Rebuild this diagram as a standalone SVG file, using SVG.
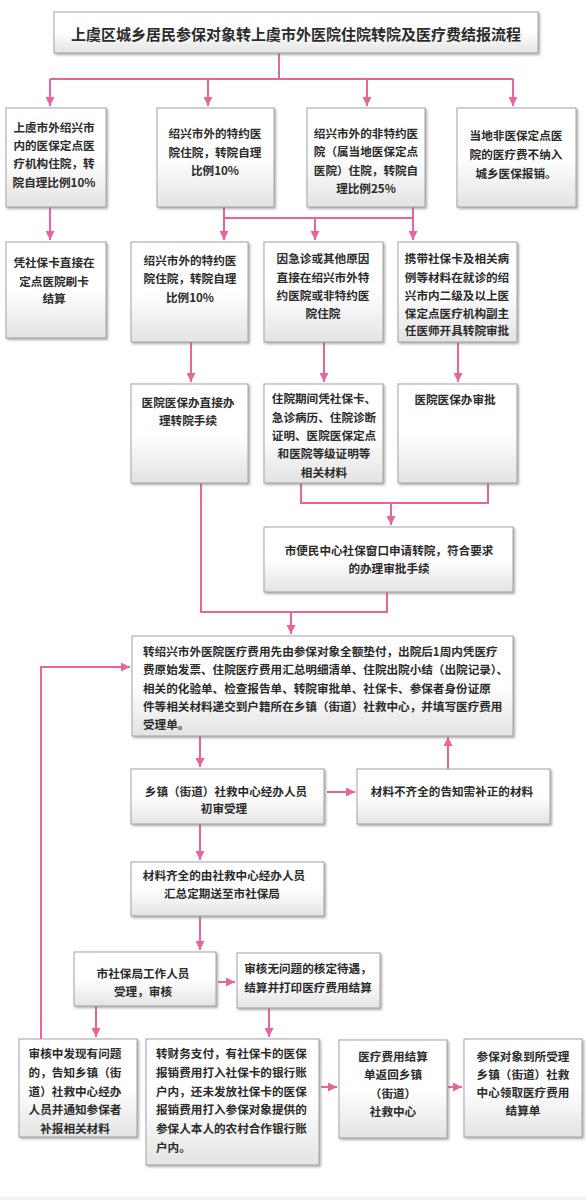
<svg xmlns="http://www.w3.org/2000/svg" width="586" height="1200" viewBox="0 0 586 1200">
<defs>
<linearGradient id="g" x1="0" y1="0" x2="0" y2="1">
<stop offset="0" stop-color="#ffffff"/>
<stop offset="0.5" stop-color="#ffffff"/>
<stop offset="1" stop-color="#e3e3e3"/>
</linearGradient>
<filter id="sh" x="-10%" y="-10%" width="120%" height="130%">
<feDropShadow dx="1.5" dy="1.5" stdDeviation="1" flood-color="#777" flood-opacity="0.6"/>
</filter>
<marker id="ar" viewBox="0 0 10 10" refX="10" refY="5" markerWidth="9" markerHeight="9" markerUnits="userSpaceOnUse" orient="auto">
<path d="M0,0 L10,5 L0,10 z" fill="#e8649a"/>
</marker>
</defs>
<style>
.b{fill:url(#g);stroke:#a3a3a3;stroke-width:1;filter:url(#sh)}
text{font-family:"Noto Sans CJK SC","Liberation Sans",sans-serif;font-size:11.6px;fill:#2b2b2b;font-weight:bold;dominant-baseline:central}
.c{text-anchor:middle}
.t{font-size:15px}
.ln{fill:none;stroke:#e8649a;stroke-width:2}
.a{marker-end:url(#ar)}
</style>
<rect x="0" y="1197" width="586" height="3" fill="#f2f2f2"/>
<g id="connectors">
<path class="ln" d="M279,53 V79 M50,79 H513"/>
<path class="ln a" d="M50,79 V106"/>
<path class="ln a" d="M208,79 V106"/>
<path class="ln a" d="M367,79 V106"/>
<path class="ln a" d="M513,79 V106"/>
<path class="ln a" d="M50,207 V240"/>
<path class="ln" d="M224,207 V218 H413"/>
<path class="ln a" d="M224,218 V240"/>
<path class="ln a" d="M315,218 V240"/>
<path class="ln a" d="M413,207 V240"/>
<path class="ln a" d="M191,342 V382"/>
<path class="ln a" d="M324,342 V382"/>
<path class="ln a" d="M458,342 V382"/>
<path class="ln" d="M301,483 V503 H488 V483"/>
<path class="ln a" d="M391,503 V525"/>
<path class="ln" d="M201,483 V612 H387 V592"/>
<path class="ln a" d="M291,612 V634"/>
<path class="ln a" d="M200,736 V767"/>
<path class="ln a" d="M327,792 H355"/>
<path class="ln a" d="M448,769 V737"/>
<path class="ln a" d="M200,824 V860"/>
<path class="ln a" d="M200,916 V950"/>
<path class="ln a" d="M218,982 H235"/>
<path class="ln a" d="M96,1006 V1037"/>
<path class="ln a" d="M269,1008 V1037"/>
<path class="ln a" d="M41,1039 V667 H130"/>
<path class="ln a" d="M321,1087 H337"/>
<path class="ln a" d="M448,1087 H462"/>
</g>
<g id="title">
<rect class="b" x="54" y="12" width="484" height="41"/>
<text class="c t" x="296" y="33">上虞区城乡居民参保对象转上虞市外医院住院转院及医疗费结报流程</text>
</g>
<g id="n1">
<rect class="b" x="6" y="108" width="100" height="99"/>
<text class="c" x="54" y="127">上虞市外绍兴市</text>
<text class="c" x="54" y="145">内的医保定点医</text>
<text class="c" x="54" y="163">疗机构住院，转</text>
<text class="c" x="54" y="182">院自理比例10%</text>
</g>
<g id="n2">
<rect class="b" x="157" y="108" width="117" height="99"/>
<text class="c" x="215" y="133">绍兴市外的特约医</text>
<text class="c" x="215" y="152">院住院，转院自理</text>
<text class="c" x="215" y="170">比例10%</text>
</g>
<g id="n3">
<rect class="b" x="307" y="108" width="118" height="99"/>
<text class="c" x="366" y="133">绍兴市外的非特约医</text>
<text class="c" x="366" y="151">院（属当地医保定点</text>
<text class="c" x="366" y="170">医院）住院，转院自</text>
<text class="c" x="366" y="188">理比例25%</text>
</g>
<g id="n4">
<rect class="b" x="457" y="108" width="119" height="99"/>
<text class="c" x="516" y="135">当地非医保定点医</text>
<text class="c" x="516" y="154">院的医疗费不纳入</text>
<text class="c" x="516" y="173">城乡医保报销。</text>
</g>
<g id="n5">
<rect class="b" x="6" y="242" width="100" height="96"/>
<text class="c" x="54" y="262">凭社保卡直接在</text>
<text class="c" x="54" y="281">定点医院刷卡</text>
<text class="c" x="54" y="298">结算</text>
</g>
<g id="n6">
<rect class="b" x="131" y="242" width="117" height="100"/>
<text class="c" x="190" y="260">绍兴市外的特约医</text>
<text class="c" x="190" y="278">院住院，转院自理</text>
<text class="c" x="190" y="297">比例10%</text>
</g>
<g id="n7">
<rect class="b" x="264" y="242" width="119" height="100"/>
<text class="c" x="323" y="258">因急诊或其他原因</text>
<text class="c" x="323" y="277">直接在绍兴市外特</text>
<text class="c" x="323" y="295">约医院或非特约医</text>
<text class="c" x="323" y="313">院住院</text>
</g>
<g id="n8">
<rect class="b" x="398" y="242" width="119" height="100"/>
<text class="c" x="457" y="258">携带社保卡及相关病</text>
<text class="c" x="457" y="277">例等材料在就诊的绍</text>
<text class="c" x="457" y="295">兴市内二级及以上医</text>
<text class="c" x="457" y="313">保定点医疗机构副主</text>
<text class="c" x="457" y="330">任医师开具转院审批</text>
</g>
<g id="n9">
<rect class="b" x="131" y="384" width="117" height="99"/>
<text class="c" x="188" y="402">医院医保办直接办</text>
<text class="c" x="188" y="420">理转院手续</text>
</g>
<g id="n10">
<rect class="b" x="264" y="384" width="119" height="99"/>
<text class="c" x="324" y="398">住院期间凭社保卡、</text>
<text class="c" x="324" y="417">急诊病历、住院诊断</text>
<text class="c" x="324" y="435">证明、医院医保定点</text>
<text class="c" x="324" y="453">和医院等级证明等</text>
<text class="c" x="324" y="472">相关材料</text>
</g>
<g id="n11">
<rect class="b" x="398" y="384" width="119" height="99"/>
<text class="c" x="455" y="399">医院医保办审批</text>
</g>
<g id="n12">
<rect class="b" x="264" y="527" width="249" height="65"/>
<text class="c" x="389" y="550">市便民中心社保窗口申请转院，符合要求</text>
<text class="c" x="389" y="568">的办理审批手续</text>
</g>
<g id="n13">
<rect class="b" x="132" y="636" width="381" height="100"/>
<text x="143" y="651">转绍兴市外医院医疗费用先由参保对象全额垫付，出院后1周内凭医疗</text>
<text x="143" y="669">费原始发票、住院医疗费用汇总明细清单、住院出院小结（出院记录）、</text>
<text x="143" y="688">相关的化验单、检查报告单、转院审批单、社保卡、参保者身份证原</text>
<text x="143" y="706">件等相关材料递交到户籍所在乡镇（街道）社救中心，并填写医疗费用</text>
<text x="143" y="724">受理单。</text>
</g>
<g id="n14">
<rect class="b" x="131" y="769" width="193" height="55"/>
<text class="c" x="226" y="791">乡镇（街道）社救中心经办人员</text>
<text class="c" x="224" y="808">初审受理</text>
</g>
<g id="n15">
<rect class="b" x="357" y="769" width="193" height="55"/>
<text class="c" x="452" y="791">材料不齐全的告知需补正的材料</text>
</g>
<g id="n16">
<rect class="b" x="131" y="862" width="193" height="54"/>
<text class="c" x="224" y="875">材料齐全的由社救中心经办人员</text>
<text class="c" x="222" y="893">汇总定期送至市社保局</text>
</g>
<g id="n17">
<rect class="b" x="74" y="952" width="142" height="54"/>
<text class="c" x="143" y="973">市社保局工作人员</text>
<text class="c" x="143" y="991">受理，审核</text>
</g>
<g id="n18">
<rect class="b" x="237" y="953" width="143" height="55"/>
<text class="c" x="308" y="968">审核无问题的核定待遇，</text>
<text class="c" x="308" y="987">结算并打印医疗费用结算</text>
</g>
<g id="n19">
<rect class="b" x="19" y="1039" width="118" height="98"/>
<text class="c" x="75" y="1053">审核中发现有问题</text>
<text class="c" x="75" y="1072">的，告知乡镇（街</text>
<text class="c" x="75" y="1091">道）社救中心经办</text>
<text class="c" x="75" y="1109">人员并通知参保者</text>
<text class="c" x="75" y="1128">补报相关材料</text>
</g>
<g id="n20">
<rect class="b" x="146" y="1039" width="173" height="126"/>
<text x="156" y="1053">转财务支付，有社保卡的医保</text>
<text x="156" y="1072">报销费用打入社保卡的银行账</text>
<text x="156" y="1091">户内，还未发放社保卡的医保</text>
<text x="156" y="1109">报销费用打入参保对象提供的</text>
<text x="156" y="1128">参保人本人的农村合作银行账</text>
<text x="156" y="1147">户内。</text>
</g>
<g id="n21">
<rect class="b" x="339" y="1040" width="108" height="98"/>
<text class="c" x="393" y="1056">医疗费用结算</text>
<text class="c" x="393" y="1074">单返回乡镇</text>
<text class="c" x="393" y="1093">（街道）</text>
<text class="c" x="393" y="1111">社救中心</text>
</g>
<g id="n22">
<rect class="b" x="464" y="1039" width="118" height="98"/>
<text class="c" x="523" y="1056">参保对象到所受理</text>
<text class="c" x="523" y="1074">乡镇（街道）社救</text>
<text class="c" x="523" y="1092">中心领取医疗费用</text>
<text class="c" x="523" y="1110">结算单</text>
</g>
</svg>
